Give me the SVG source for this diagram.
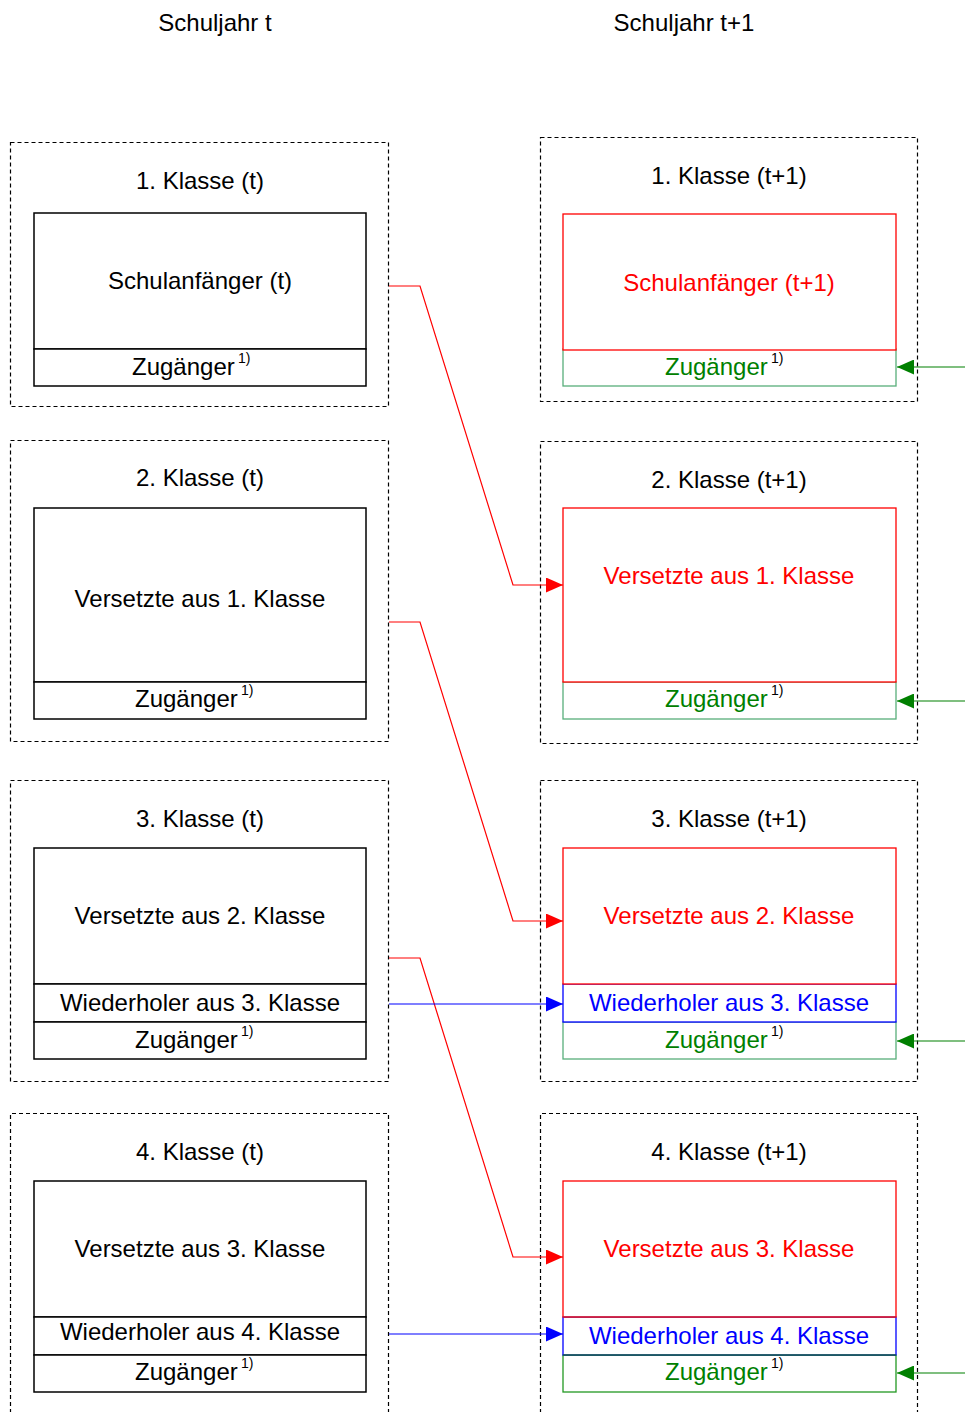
<svg xmlns="http://www.w3.org/2000/svg" width="965" height="1412" viewBox="0 0 965 1412">
<style>
text{font-family:"Liberation Sans",Arial,sans-serif;font-size:24px;}
.c{text-anchor:middle}
.sup{font-size:14px}
.dash{fill:none;stroke:#000;stroke-width:1.2;stroke-dasharray:4,3}
.bk{fill:#fff;stroke:#000;stroke-width:1.5}
.rd{fill:#fff;stroke:#ff0000;stroke-width:1.3}
.bl{fill:#fff;stroke:#0000ff;stroke-width:1.3}
.gr{fill:#fff;stroke:#2e9a5a;stroke-width:1.3;stroke-opacity:0.8}
.tr{fill:#ff0000}.tb{fill:#0000ff}.tg{fill:#008000}
.cr{fill:none;stroke:#ff0000;stroke-width:1.2}
.cb{fill:none;stroke:#0000ff;stroke-width:1.2}
.cg{fill:none;stroke:#008000;stroke-width:1.2}
</style>
<defs>
<marker id="ar" markerWidth="17" markerHeight="15" refX="17" refY="7.5" orient="auto" markerUnits="userSpaceOnUse"><path d="M0,0 L17,7.5 L0,15 Z" fill="#ff0000"/></marker>
<marker id="ab" markerWidth="17" markerHeight="15" refX="17" refY="7.5" orient="auto" markerUnits="userSpaceOnUse"><path d="M0,0 L17,7.5 L0,15 Z" fill="#0000ff"/></marker>
<marker id="ag" markerWidth="17" markerHeight="15" refX="17" refY="7.5" orient="auto" markerUnits="userSpaceOnUse"><path d="M0,0 L17,7.5 L0,15 Z" fill="#008000"/></marker>
</defs>
<rect width="965" height="1412" fill="#fff"/>
<g id="headers">
<text class="c" x="215" y="31">Schuljahr t</text>
<text class="c" x="684" y="31">Schuljahr t+1</text>
</g>
<g id="L1">
<rect class="dash" x="10.5" y="142.5" width="378" height="264"/>
<text class="c" x="200" y="189">1. Klasse (t)</text>
<rect class="bk" x="34" y="213" width="332" height="136"/>
<text class="c" x="200" y="289">Schulanfänger (t)</text>
<rect class="bk" x="34" y="349" width="332" height="37"/>
<text x="132" y="375">Zugänger</text><text class="sup" x="238" y="363">1)</text>
</g>
<g id="L2">
<rect class="dash" x="10.5" y="440.5" width="378" height="301"/>
<text class="c" x="200" y="486">2. Klasse (t)</text>
<rect class="bk" x="34" y="508" width="332" height="174"/>
<text class="c" x="200" y="607">Versetzte aus 1. Klasse</text>
<rect class="bk" x="34" y="682" width="332" height="37"/>
<text x="135" y="707">Zugänger</text><text class="sup" x="241" y="695">1)</text>
</g>
<g id="L3">
<rect class="dash" x="10.5" y="780.5" width="378" height="301"/>
<text class="c" x="200" y="827">3. Klasse (t)</text>
<rect class="bk" x="34" y="848" width="332" height="136"/>
<text class="c" x="200" y="924">Versetzte aus 2. Klasse</text>
<rect class="bk" x="34" y="984" width="332" height="38"/>
<text class="c" x="200" y="1011">Wiederholer aus 3. Klasse</text>
<rect class="bk" x="34" y="1022" width="332" height="37"/>
<text x="135" y="1048">Zugänger</text><text class="sup" x="241" y="1036">1)</text>
</g>
<g id="L4">
<path class="dash" d="M10.5,1420 V1113.5 H388.5 V1420"/>
<text class="c" x="200" y="1160">4. Klasse (t)</text>
<rect class="bk" x="34" y="1181" width="332" height="136"/>
<text class="c" x="200" y="1257">Versetzte aus 3. Klasse</text>
<rect class="bk" x="34" y="1317" width="332" height="38"/>
<text class="c" x="200" y="1340">Wiederholer aus 4. Klasse</text>
<rect class="bk" x="34" y="1355" width="332" height="37"/>
<text x="135" y="1380">Zugänger</text><text class="sup" x="241" y="1368">1)</text>
</g>
<g id="R1">
<rect class="dash" x="540.5" y="137.5" width="377" height="264"/>
<text class="c" x="729" y="184">1. Klasse (t+1)</text>
<rect class="gr" x="563" y="349" width="333" height="37"/>
<rect class="rd" x="563" y="214" width="333" height="136"/>
<text class="c tr" x="729" y="291">Schulanfänger (t+1)</text>
<text class="tg" x="665" y="375">Zugänger</text><text class="sup" x="771" y="363">1)</text>
</g>
<g id="R2">
<rect class="dash" x="540.5" y="441.5" width="377" height="302"/>
<text class="c" x="729" y="488">2. Klasse (t+1)</text>
<rect class="gr" x="563" y="682" width="333" height="37"/>
<rect class="rd" x="563" y="508" width="333" height="174"/>
<text class="c tr" x="729" y="584">Versetzte aus 1. Klasse</text>
<text class="tg" x="665" y="707">Zugänger</text><text class="sup" x="771" y="695">1)</text>
</g>
<g id="R3">
<rect class="dash" x="540.5" y="780.5" width="377" height="301"/>
<text class="c" x="729" y="827">3. Klasse (t+1)</text>
<rect class="gr" x="563" y="1022" width="333" height="37"/>
<rect class="bl" x="563" y="984" width="333" height="38"/>
<rect class="rd" x="563" y="848" width="333" height="136"/>
<text class="c tr" x="729" y="924">Versetzte aus 2. Klasse</text>
<text class="c tb" x="729" y="1011">Wiederholer aus 3. Klasse</text>
<text class="tg" x="665" y="1048">Zugänger</text><text class="sup" x="771" y="1036">1)</text>
</g>
<g id="R4">
<path class="dash" d="M540.5,1420 V1113.5 H917.5 V1420"/>
<text class="c" x="729" y="1160">4. Klasse (t+1)</text>
<rect class="gr" x="563" y="1355" width="333" height="37" style="stroke:#229922;stroke-opacity:1"/>
<rect class="bl" x="563" y="1317" width="333" height="38"/>
<rect class="rd" x="563" y="1181" width="333" height="136"/>
<line x1="563" y1="1317" x2="896" y2="1317" stroke="#c0204a" stroke-width="1.5"/>
<line x1="563" y1="1355" x2="896" y2="1355" stroke="#1a6040" stroke-width="1.5"/>
<text class="c tr" x="729" y="1257">Versetzte aus 3. Klasse</text>
<text class="c tb" x="729" y="1344">Wiederholer aus 4. Klasse</text>
<text class="tg" x="665" y="1380">Zugänger</text><text class="sup" x="771" y="1368">1)</text>
</g>
<g id="connectors">
<path class="cr" d="M389,286 H420 L513,585 H563" marker-end="url(#ar)"/>
<path class="cr" d="M389,622 H420 L513,921 H563" marker-end="url(#ar)"/>
<path class="cr" d="M389,958 H420 L513,1257 H563" marker-end="url(#ar)"/>
<path class="cb" d="M389,1004 H563" marker-end="url(#ab)"/>
<path class="cb" d="M389,1334 H563" marker-end="url(#ab)"/>
<path class="cg" d="M965,367 H897" marker-end="url(#ag)"/>
<path class="cg" d="M965,701 H897" marker-end="url(#ag)"/>
<path class="cg" d="M965,1041 H897" marker-end="url(#ag)"/>
<path class="cg" d="M965,1373 H897" marker-end="url(#ag)"/>
</g>
</svg>
